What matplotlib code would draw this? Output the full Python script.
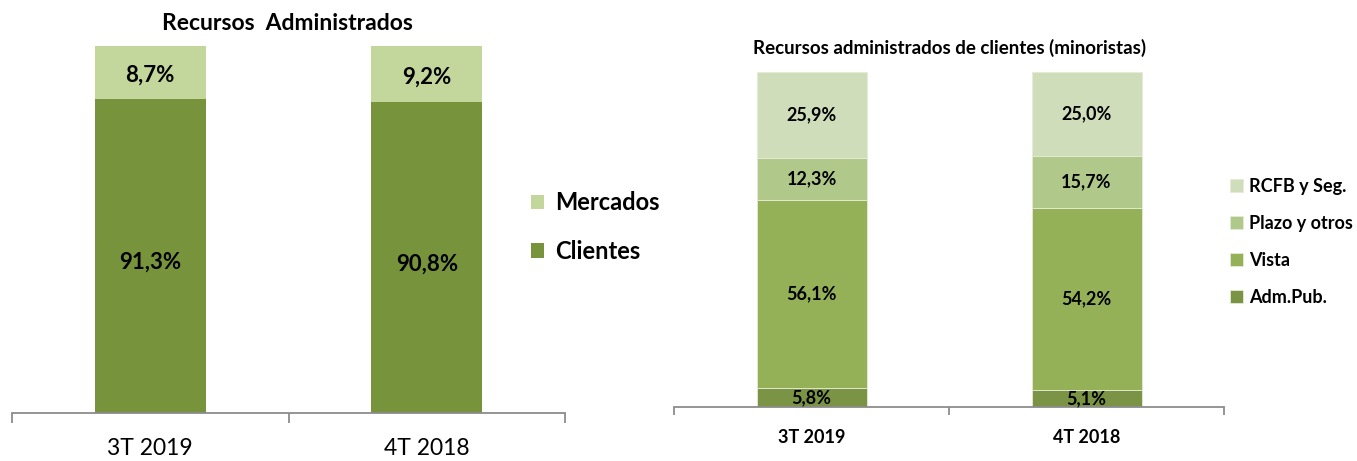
import matplotlib
matplotlib.use("Agg")
import matplotlib.pyplot as plt
import numpy as np

plt.rcParams['font.family'] = ['Lato', 'DejaVu Sans']

# ---- data ----
categories = ["3T 2019", "4T 2018"]

left_title = "Recursos  Administrados"
clientes = [91.3, 90.8]
mercados = [8.7, 9.2]

right_title = "Recursos administrados de clientes (minoristas)"
adm_pub = [5.8, 5.1]
vista = [56.1, 54.2]
plazo = [12.3, 15.7]
rcfb = [25.9, 25.0]

W, H = 1357, 461
fig = plt.figure(figsize=(W / 100, H / 100), dpi=100)

def fx(px):
    return px / W

def fy(py):
    return 1 - py / H

axis_grey = "#8C8C8C"

def fmt(v):
    return f"{v:.1f}%".replace(".", ",")

def style_axis(ax, tick_len, label_pad, label_size, bold):
    for s in ["left", "right", "top"]:
        ax.spines[s].set_visible(False)
    ax.spines["bottom"].set_color(axis_grey)
    ax.spines["bottom"].set_linewidth(1.3)
    ax.set_yticks([])
    ax.set_xlim(-0.5, 1.5)
    ax.set_xticks([-0.5, 0.5, 1.5])
    ax.set_xticklabels([])
    ax.set_xticks([0, 1], minor=True)
    ax.set_xticklabels(categories, minor=True, fontsize=label_size,
                       fontweight="bold" if bold else "normal")
    ax.tick_params(axis="x", which="major", length=tick_len, width=1.3,
                   color=axis_grey, direction="out")
    ax.tick_params(axis="x", which="minor", length=0, pad=label_pad)

# ---- left chart ----
axL = fig.add_axes([fx(12), fy(413), fx(565) - fx(12), fy(46) - fy(413)])
x = np.arange(len(categories))
ymin_L = 40
b1 = axL.bar(x, clientes, width=0.40, color="#77933C", label="Clientes")
b2 = axL.bar(x, mercados, bottom=clientes, width=0.40, color="#C3D69B",
             label="Mercados")
axL.set_ylim(ymin_L, 100)
style_axis(axL, 7, 18, 16.5, False)
for i in range(len(categories)):
    axL.text(x[i], (ymin_L + clientes[i]) / 2 - 1.0, fmt(clientes[i]),
             ha="center", va="center", fontsize=16, fontweight="bold")
    axL.text(x[i], clientes[i] + mercados[i] / 2 - 0.5, fmt(mercados[i]),
             ha="center", va="center", fontsize=16, fontweight="bold")
fig.text(fx(287), fy(23), left_title, ha="center", va="center",
         fontsize=16.5, fontweight="bold")
legL = fig.legend([b2, b1], ["Mercados", "Clientes"], loc="center left",
                  bbox_to_anchor=(fx(531), fy(227)), frameon=False,
                  borderpad=0, borderaxespad=0,
                  prop={"size": 17, "weight": "bold"}, handlelength=0.55,
                  handleheight=0.55, handletextpad=0.47, labelspacing=1.08)

# ---- right chart ----
axR = fig.add_axes([fx(674), fy(407), fx(1224) - fx(674), fy(72) - fy(407)])
series = [("Adm.Pub.", adm_pub, "#7A9344"),
          ("Vista", vista, "#94B158"),
          ("Plazo y otros", plazo, "#B0C88A"),
          ("RCFB y Seg.", rcfb, "#D0DDBA")]
bottom = np.zeros(len(categories))
handles = []
for name, vals, col in series:
    vals = np.array(vals)
    b = axR.bar(x, vals, bottom=bottom, width=0.40, color=col,
                edgecolor="#E4EBD6", linewidth=0.6, label=name)
    handles.append(b)
    for i in range(len(categories)):
        axR.text(x[i], bottom[i] + vals[i] / 2, fmt(vals[i]), ha="center",
                 va="center", fontsize=13, fontweight="bold")
    bottom = bottom + vals
axR.set_ylim(0, 100)
style_axis(axR, 6, 16, 13, True)
fig.text(fx(950), fy(48), right_title, ha="center", va="center",
         fontsize=13.5, fontweight="bold")
legR = fig.legend(handles[::-1], [s[0] for s in series][::-1],
                  loc="center left", bbox_to_anchor=(fx(1230), fy(242)),
                  frameon=False, borderpad=0, borderaxespad=0,
                  prop={"size": 13, "weight": "bold"},
                  handlelength=0.72, handleheight=0.72, handletextpad=0.35,
                  labelspacing=1.1)

fig.savefig("out.png", dpi=100)
